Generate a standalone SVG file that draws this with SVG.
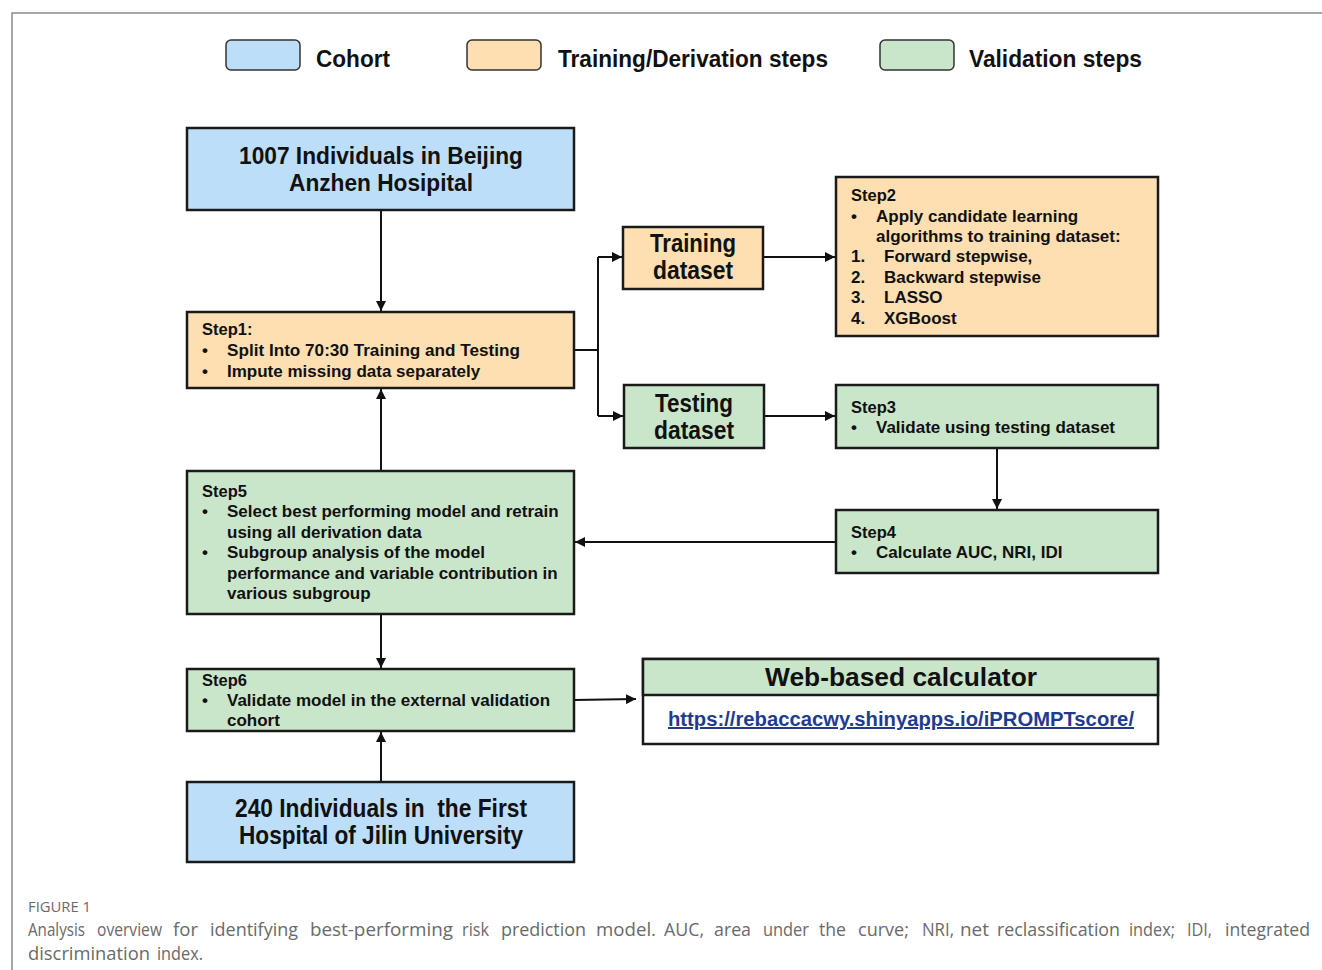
<svg xmlns="http://www.w3.org/2000/svg" width="1322" height="970" viewBox="0 0 1322 970">
<defs>
<marker id="arr" viewBox="0 0 10 10" refX="10" refY="5" markerWidth="10" markerHeight="10" markerUnits="userSpaceOnUse" orient="auto">
<path d="M0,0 L10,5 L0,10 z" fill="#111"/>
</marker>
<style>
.blue{fill:#BDDEF8;stroke:#1a1a1a;stroke-width:2.5}
.orange{fill:#FDDFB1;stroke:#1a1a1a;stroke-width:2.5}
.green{fill:#C9E6CB;stroke:#1a1a1a;stroke-width:2.5}
.white{fill:#ffffff;stroke:#1a1a1a;stroke-width:2.5}
.leg{stroke:#333;stroke-width:1.5}
.t{font-family:"Liberation Sans",Arial,sans-serif;font-weight:bold;fill:#111}
.big{font-size:25px}
.lg{font-size:23px}
.st{font-size:16.5px}
.bl{font-size:17px}
.mid{text-anchor:middle}
.con{fill:none;stroke:#111;stroke-width:2}
.cap{font-family:"Open Sans","Noto Sans",sans-serif;fill:#6a6a6a;font-size:18px}
</style>
</defs>
<rect x="0" y="0" width="1322" height="970" fill="#ffffff"/>
<path d="M12,970 L12,13 L1322,13" fill="none" stroke="#8a8a8a" stroke-width="1.5"/>

<g id="legend">
<rect class="leg" x="226" y="40" width="74" height="30" rx="5" fill="#BDDEF8"/>
<text class="t lg" x="316" y="67" textLength="74" lengthAdjust="spacingAndGlyphs">Cohort</text>
<rect class="leg" x="467" y="40" width="74" height="30" rx="5" fill="#FDDFB1"/>
<text class="t lg" x="558" y="67" textLength="270" lengthAdjust="spacingAndGlyphs">Training/Derivation steps</text>
<rect class="leg" x="880" y="40" width="74" height="30" rx="5" fill="#C9E6CB"/>
<text class="t lg" x="969" y="67" textLength="173" lengthAdjust="spacingAndGlyphs">Validation steps</text>
</g>

<g id="connectors">
<path class="con" d="M381,210 L381,311" marker-end="url(#arr)"/>
<path class="con" d="M381,471 L381,389" marker-end="url(#arr)"/>
<path class="con" d="M574,350 L598,350"/>
<path class="con" d="M598,257 L598,416"/>
<path class="con" d="M598,257 L622,257" marker-end="url(#arr)"/>
<path class="con" d="M598,416 L623,416" marker-end="url(#arr)"/>
<path class="con" d="M763,257 L835,257" marker-end="url(#arr)"/>
<path class="con" d="M764,416 L835,416" marker-end="url(#arr)"/>
<path class="con" d="M997,448 L997,509" marker-end="url(#arr)"/>
<path class="con" d="M836,542 L575,542" marker-end="url(#arr)"/>
<path class="con" d="M381,614 L381,668" marker-end="url(#arr)"/>
<path class="con" d="M574,700 L636,699" marker-end="url(#arr)"/>
<path class="con" d="M381,782 L381,732" marker-end="url(#arr)"/>
</g>

<g id="cohort1">
<rect class="blue" x="187" y="128" width="387" height="82"/>
<text class="t lg mid" x="381" y="164" textLength="284" lengthAdjust="spacingAndGlyphs">1007 Individuals in Beijing</text>
<text class="t lg mid" x="381" y="191" textLength="184" lengthAdjust="spacingAndGlyphs">Anzhen Hosipital</text>
</g>

<g id="step1">
<rect class="orange" x="187" y="312" width="387" height="76"/>
<text class="t st" x="202" y="335">Step1:</text>
<text class="t bl" x="202" y="356">•</text>
<text class="t bl" x="227" y="356" textLength="293" lengthAdjust="spacingAndGlyphs">Split Into 70:30 Training and Testing</text>
<text class="t bl" x="202" y="377">•</text>
<text class="t bl" x="227" y="377">Impute missing data separately</text>
</g>

<g id="training">
<rect class="orange" x="623" y="227" width="140" height="62"/>
<text class="t big mid" x="693" y="252" textLength="86" lengthAdjust="spacingAndGlyphs">Training</text>
<text class="t big mid" x="693" y="279" textLength="80" lengthAdjust="spacingAndGlyphs">dataset</text>
</g>

<g id="testing">
<rect class="green" x="624" y="385" width="140" height="63"/>
<text class="t big mid" x="694" y="412" textLength="78" lengthAdjust="spacingAndGlyphs">Testing</text>
<text class="t big mid" x="694" y="439" textLength="80" lengthAdjust="spacingAndGlyphs">dataset</text>
</g>

<g id="step2">
<rect class="orange" x="836" y="177" width="322" height="159"/>
<text class="t st" x="851" y="201">Step2</text>
<text class="t bl" x="851" y="222">•</text>
<text class="t bl" x="876" y="222">Apply candidate learning</text>
<text class="t bl" x="876" y="242">algorithms to training dataset:</text>
<text class="t bl" x="851" y="262">1.</text>
<text class="t bl" x="884" y="262">Forward stepwise,</text>
<text class="t bl" x="851" y="283">2.</text>
<text class="t bl" x="884" y="283">Backward stepwise</text>
<text class="t bl" x="851" y="303">3.</text>
<text class="t bl" x="884" y="303">LASSO</text>
<text class="t bl" x="851" y="324">4.</text>
<text class="t bl" x="884" y="324">XGBoost</text>
</g>

<g id="step3">
<rect class="green" x="836" y="385" width="322" height="63"/>
<text class="t st" x="851" y="413">Step3</text>
<text class="t bl" x="851" y="433">•</text>
<text class="t bl" x="876" y="433">Validate using testing dataset</text>
</g>

<g id="step4">
<rect class="green" x="836" y="510" width="322" height="63"/>
<text class="t st" x="851" y="538">Step4</text>
<text class="t bl" x="851" y="558">•</text>
<text class="t bl" x="876" y="558">Calculate AUC, NRI, IDI</text>
</g>

<g id="step5">
<rect class="green" x="187" y="471" width="387" height="143"/>
<text class="t st" x="202" y="497">Step5</text>
<text class="t bl" x="202" y="517">•</text>
<text class="t bl" x="227" y="517">Select best performing model and retrain</text>
<text class="t bl" x="227" y="538">using all derivation data</text>
<text class="t bl" x="202" y="558">•</text>
<text class="t bl" x="227" y="558">Subgroup analysis of the model</text>
<text class="t bl" x="227" y="579">performance and variable contribution in</text>
<text class="t bl" x="227" y="599">various subgroup</text>
</g>

<g id="step6">
<rect class="green" x="187" y="669" width="387" height="62"/>
<text class="t st" x="202" y="686">Step6</text>
<text class="t bl" x="202" y="706">•</text>
<text class="t bl" x="227" y="706">Validate model in the external validation</text>
<text class="t bl" x="227" y="726">cohort</text>
</g>

<g id="webcalc">
<rect class="white" x="643" y="659" width="515" height="85"/>
<rect class="green" x="643" y="659" width="515" height="36"/>
<text class="t mid" x="901" y="686" font-size="26" textLength="272" lengthAdjust="spacingAndGlyphs">Web-based calculator</text>
<text class="t mid" x="901" y="726" font-size="20" style="fill:#1F3C8C" text-decoration="underline" textLength="466" lengthAdjust="spacingAndGlyphs">https://rebaccacwy.shinyapps.io/iPROMPTscore/</text>
</g>

<g id="cohort2">
<rect class="blue" x="187" y="782" width="387" height="80"/>
<text class="t big mid" x="381" y="817" style="white-space:pre" textLength="292" lengthAdjust="spacingAndGlyphs">240 Individuals in  the First</text>
<text class="t big mid" x="381" y="844" textLength="284" lengthAdjust="spacingAndGlyphs">Hospital of Jilin University</text>
</g>

<g id="caption">
<text class="cap" x="28" y="912" style="font-size:14px" textLength="63" lengthAdjust="spacingAndGlyphs">FIGURE 1</text>
<text class="cap" x="28" y="936" textLength="57" lengthAdjust="spacingAndGlyphs">Analysis</text>
<text class="cap" x="97" y="936" textLength="65" lengthAdjust="spacingAndGlyphs">overview</text>
<text class="cap" x="173" y="936" textLength="25" lengthAdjust="spacingAndGlyphs">for</text>
<text class="cap" x="210" y="936" textLength="88" lengthAdjust="spacingAndGlyphs">identifying</text>
<text class="cap" x="310" y="936" textLength="143" lengthAdjust="spacingAndGlyphs">best-performing</text>
<text class="cap" x="462" y="936" textLength="27" lengthAdjust="spacingAndGlyphs">risk</text>
<text class="cap" x="501" y="936" textLength="85" lengthAdjust="spacingAndGlyphs">prediction</text>
<text class="cap" x="596" y="936" textLength="60" lengthAdjust="spacingAndGlyphs">model.</text>
<text class="cap" x="664" y="936" textLength="40" lengthAdjust="spacingAndGlyphs">AUC,</text>
<text class="cap" x="714" y="936" textLength="37" lengthAdjust="spacingAndGlyphs">area</text>
<text class="cap" x="763" y="936" textLength="46" lengthAdjust="spacingAndGlyphs">under</text>
<text class="cap" x="819" y="936" textLength="27" lengthAdjust="spacingAndGlyphs">the</text>
<text class="cap" x="858" y="936" textLength="51" lengthAdjust="spacingAndGlyphs">curve;</text>
<text class="cap" x="922" y="936" textLength="32" lengthAdjust="spacingAndGlyphs">NRI,</text>
<text class="cap" x="960" y="936" textLength="29" lengthAdjust="spacingAndGlyphs">net</text>
<text class="cap" x="997" y="936" textLength="123" lengthAdjust="spacingAndGlyphs">reclassification</text>
<text class="cap" x="1129" y="936" textLength="46" lengthAdjust="spacingAndGlyphs">index;</text>
<text class="cap" x="1187" y="936" textLength="25" lengthAdjust="spacingAndGlyphs">IDI,</text>
<text class="cap" x="1225" y="936" textLength="85" lengthAdjust="spacingAndGlyphs">integrated</text>
<text class="cap" x="28" y="960" textLength="122" lengthAdjust="spacingAndGlyphs">discrimination</text>
<text class="cap" x="157" y="960" textLength="46" lengthAdjust="spacingAndGlyphs">index.</text>
</g>
</svg>
